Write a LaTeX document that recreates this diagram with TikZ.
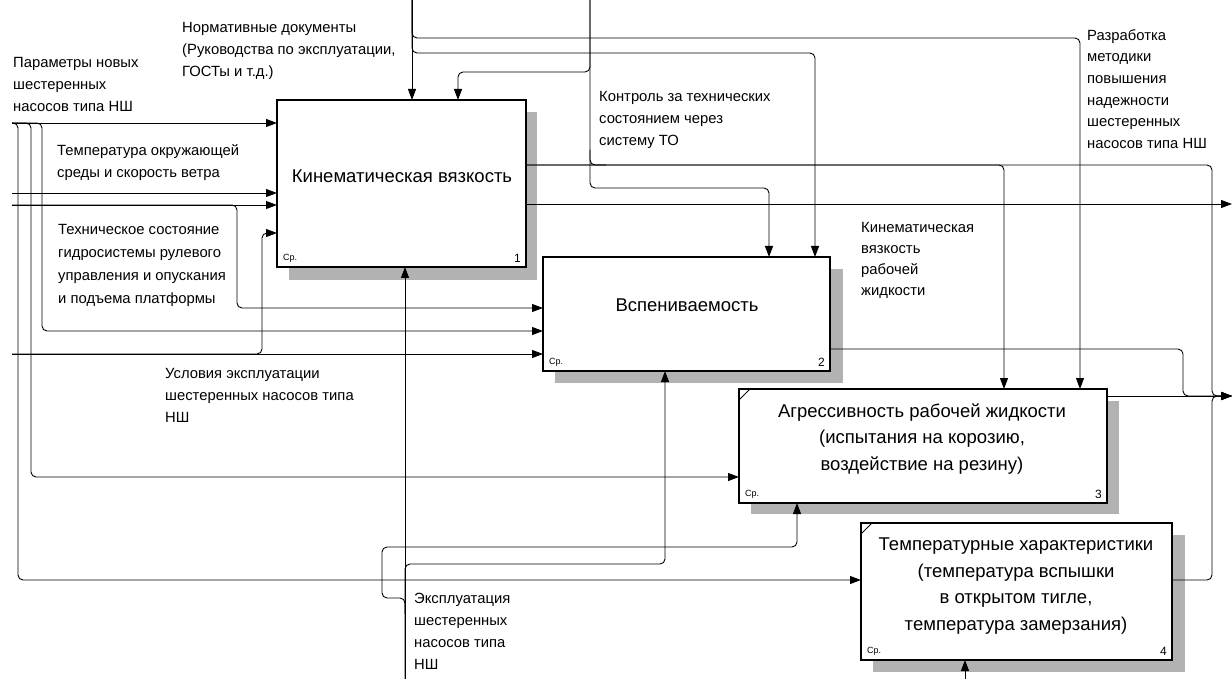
\documentclass[tikz,border=0pt]{standalone}
\usepackage{fontspec}
\setmainfont{Liberation Sans}
\usetikzlibrary{arrows.meta}
\begin{document}
\begin{tikzpicture}[x=1pt,y=-1pt,
  conn/.style={line width=0.9pt, rounded corners=5pt},
  arr/.style={conn, -{Triangle[length=11pt,width=8pt]}},
  fbox/.style={draw, line width=2pt, fill=white, anchor=north west, inner sep=0pt, outer sep=0pt},
  shad/.style={fill=black!30},
  lbl/.style={anchor=north west, inner sep=0pt, align=left, font=\fontsize{14.8}{22}\selectfont},
  ttl/.style={inner sep=0pt, align=center, font=\fontsize{18.5}{26.5}\selectfont},
  corner/.style={font=\fontsize{9}{9}\selectfont, inner sep=0pt, anchor=south west},
  numb/.style={font=\fontsize{12}{12}\selectfont, inner sep=0pt, anchor=south east},
  diag/.style={line width=1pt}
]
\useasboundingbox (0,0) rectangle (1232,679);
\fill[white] (0,0) rectangle (1232,679);

% shadows
\fill[shad] (289,112) rectangle (537,280);
\fill[shad] (555,269) rectangle (843,383);
\fill[shad] (751,401) rectangle (1119,514);
\fill[shad] (873,535) rectangle (1185,672);

% boxes
\node[fbox, minimum width=249pt, minimum height=167pt] (b1) at (277,100) {};
\node[fbox, minimum width=287pt, minimum height=114pt] (b2) at (543,257) {};
\node[fbox, minimum width=368pt, minimum height=114pt] (b3) at (739,389) {};
\node[fbox, minimum width=311pt, minimum height=137pt] (b4) at (861,523) {};

\node[ttl] (t1) at (402,176) {Кинематическая вязкость};
\node[ttl] (t2) at (687,305) {Вспениваемость};
\node[ttl] (t3) at (922,439) {Агрессивность рабочей жидкости\\(испытания на корозию,\\воздействие на резину)};
\node[ttl] (t4) at (1016,586) {Температурные характеристики\\(температура вспышки\\в открытом тигле,\\температура замерзания)};

\node[corner] (c1) at ([shift={(6,-4)}]b1.south west) {Ср.};
\node[corner] (c2) at ([shift={(6,-4)}]b2.south west) {Ср.};
\node[corner] (c3) at ([shift={(6,-4)}]b3.south west) {Ср.};
\node[corner] (c4) at ([shift={(6,-4)}]b4.south west) {Ср.};
\node[numb] (n1) at ([shift={(-5,-4)}]b1.south east) {1};
\node[numb] (n2) at ([shift={(-5,-4)}]b2.south east) {2};
\node[numb] (n3) at ([shift={(-5,-4)}]b3.south east) {3};
\node[numb] (n4) at ([shift={(-5,-4)}]b4.south east) {4};

\draw[diag] ([shift={(0,11)}]b3.north west) -- ([shift={(11,0)}]b3.north west);
\draw[diag] ([shift={(0,11)}]b4.north west) -- ([shift={(11,0)}]b4.north west);

% sources
\coordinate (L1) at (12,123);
\coordinate (L2) at (12,193);
\coordinate (L3) at (12,205);
\coordinate (L4) at (12,354);
\coordinate (T1) at (412,0);
\coordinate (T2) at (590,0);
\coordinate (B1) at (405,679);
\coordinate (B4) at (965,679);
\coordinate (R1) at (1232,204);
\coordinate (R2) at (1232,396);
\coordinate (M1) at (405,614);

% inputs
\draw[arr] (L1) -- (b1.west |- L1);
\draw[arr] (L1) -| (18,580) -- (b4.west |- 0,580);
\draw[arr] (L1) -| (31,477) -- (b3.west |- 0,477);
\draw[arr] (L1) -| (42,331) -- (b2.west |- 0,331);
\draw[arr] (L2) -- (b1.west |- L2);
\draw[arr] (L3) -- (b1.west |- L3);
\draw[arr] (L3) -| (237,308) -- (b2.west |- 0,308);
\draw[arr] (L4) -- (b2.west |- L4);
\draw[arr] (L4) -| (262,233) -- (b1.west |- 0,233);

% controls
\draw[arr] (T1) -- (b1.north -| T1);
\draw[arr] (T1) |- (1080,38) -- (b3.north -| 1080,0);
\draw[arr] (T1) |- (815,53) -- (b2.north -| 815,0);
\draw[arr] (T2) |- (458,72) -- (b1.north -| 458,0);
\draw[arr] (T2) |- (769,188) -- (b2.north -| 769,0);
\draw[conn] (590,150) |- (606,165);

% outputs
\draw[arr] (b1.east |- 0,165) -| (1212,396) -- (R2);
\draw[arr] (b1.east |- 0,165) -| (b3.north -| 1004,0);
\draw[arr] (b1.east |- R1) -- (R1);
\draw[arr] (b2.east |- 0,349) -| (1183,396) -- (R2);
\draw[arr] (b3.east |- R2) -- (R2);
\draw[arr] (b4.east |- 0,580) -| (1212,396) -- (R2);

% mechanisms
\draw[arr] (B1) -- (b1.south -| B1);
\draw[arr] (B1) |- (665,564) -- (b2.south -| 665,0);
\draw[arr] (M1) |- (382,598) |- (797,547) -- (b3.south -| 797,0);
\draw[arr] (B4) -- (b4.south -| B4);

% labels
\node[lbl] (l1) at (182,22) {Нормативные документы\\(Руководства по эксплуатации,\\ГОСТы и т.д.)};
\node[lbl] (l2) at (13,57) {Параметры новых\\шестеренных\\насосов типа НШ};
\node[lbl] (l3) at (57,144) {Температура окружающей\\среды и скорость ветра};
\node[lbl, font=\fontsize{14.8}{23}\selectfont] (l4) at (58,224) {Техническое состояние\\гидросистемы рулевого\\управления и опускания\\и подъема платформы};
\node[lbl] (l5) at (165,368) {Условия эксплуатации\\шестеренных насосов типа\\НШ};
\node[lbl] (l6) at (599,91) {Контроль за технических\\состоянием через\\систему ТО};
\node[lbl, font=\fontsize{14.8}{21}\selectfont] (l7) at (861,222) {Кинематическая\\вязкость\\рабочей\\жидкости};
\node[lbl, font=\fontsize{14.8}{21.7}\selectfont] (l8) at (1087,29) {Разработка\\методики\\повышения\\надежности\\шестеренных\\насосов типа НШ};
\node[lbl] (l9) at (414,593) {Эксплуатация\\шестеренных\\насосов типа\\НШ};
\end{tikzpicture}
\end{document}
